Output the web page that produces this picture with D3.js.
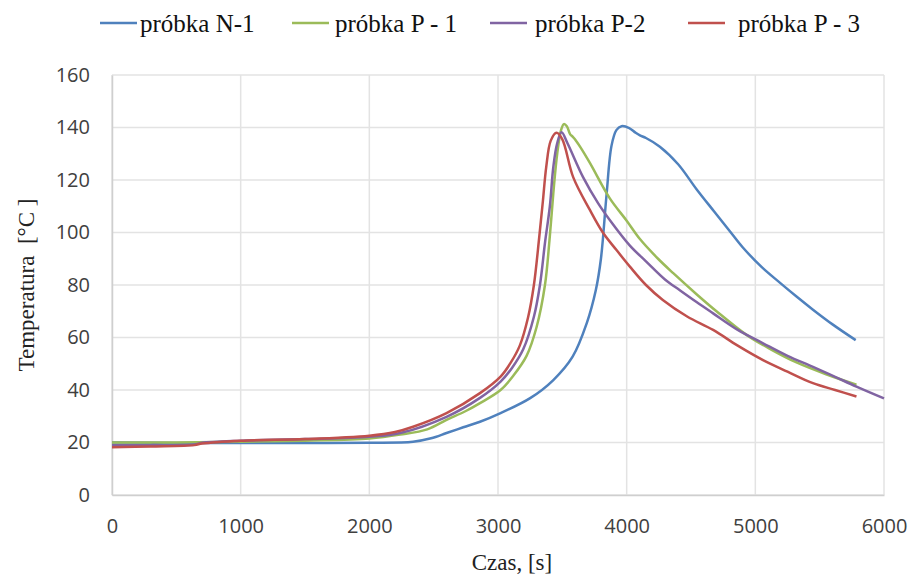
<!DOCTYPE html>
<html lang="pl">
<head>
<meta charset="UTF-8">
<title>Temperatura próbek</title>
<script src="https://cdnjs.cloudflare.com/ajax/libs/d3/7.8.5/d3.min.js"></script>
<style>
    body { margin: 0; padding: 0; background: #ffffff; }
    svg { display: block; }
    .tick text { font-family: "Open Sans", Arial, sans-serif; font-size: 20px; fill: #404040; }
    .title { font-family: "Liberation Serif", "Times New Roman", serif; font-size: 23px; fill: #222; }
    .legend text { font-family: "Liberation Serif", "Times New Roman", serif; font-size: 25px; fill: #111; }
</style>
</head>
<body>
<div id="chart"></div>
<script>
    // series: time [s] and temperature [°C]
    const timeN1 = [0, 500, 1000, 1500, 2000, 2340, 2480, 2600, 2730, 2860, 3020, 3250, 3430, 3580, 3690, 3760, 3800, 3843, 3882, 3920, 3960, 4020, 4070, 4103, 4150, 4258, 4400, 4543, 4680, 4802, 4903, 5050, 5190, 5320, 5448, 5600, 5780];
    const tempN1 = [20, 19.8, 19.8, 19.8, 19.9, 20.3, 21.6, 23.6, 25.8, 27.9, 31.2, 36.9, 43.8, 52.7, 65.5, 78, 90, 114, 133, 139, 140.5, 139.8, 138, 137, 136, 132.7, 126, 116.5, 108, 100.5, 94.3, 86.8, 80.9, 75.6, 70.6, 65, 59];

    const timeP1 = [0, 500, 1000, 1500, 2000, 2240, 2450, 2600, 2750, 2860, 3020, 3120, 3222, 3300, 3365, 3400, 3430, 3460, 3490, 3512, 3535, 3560, 3580, 3598, 3640, 3714, 3869, 4000, 4103, 4244, 4362, 4543, 4698, 4931, 5120, 5320, 5550, 5786];
    const tempP1 = [20, 20, 20.3, 20.7, 21.5, 23, 25, 28.6, 32, 35, 40, 45.5, 53, 64, 80, 97, 115, 130, 139, 141.3, 140.5, 137.5, 136.5, 135.5, 132.5, 126.5, 113, 104.5, 97.5, 90, 84.5, 76.5, 70, 61, 55.5, 50.5, 46, 42];

    const timeP2 = [0, 300, 640, 700, 1000, 1500, 2000, 2240, 2600, 2860, 3020, 3110, 3196, 3279, 3326, 3365, 3403, 3430, 3460, 3494, 3540, 3662, 3780, 3880, 4025, 4150, 4300, 4413, 4543, 4672, 4860, 5060, 5250, 5448, 5620, 5786, 6000];
    const tempP2 = [19, 19, 19.2, 19.9, 20.7, 21.3, 22.2, 23.6, 29.8, 37, 43.2, 48.5, 55.5, 67.9, 80, 96, 110, 125, 134, 138.2, 134, 121, 111, 104, 95, 89, 82, 78, 73.5, 69.2, 63, 57.8, 53, 48.8, 45, 41.3, 36.8];

    const timeP3 = [0, 300, 640, 700, 1000, 1500, 2000, 2200, 2340, 2600, 2860, 3020, 3100, 3170, 3233, 3279, 3320, 3349, 3375, 3410, 3455, 3500, 3585, 3714, 3815, 3921, 4025, 4150, 4281, 4470, 4672, 4860, 5060, 5250, 5448, 5620, 5786];
    const tempP3 = [18.2, 18.5, 19, 19.6, 20.7, 21.3, 22.6, 24, 26, 31.2, 38.8, 45.1, 50.5, 57, 67.5, 80, 98, 112, 125, 135, 138, 135.5, 121, 108.6, 100, 93.3, 87, 80, 74.3, 68, 62.9, 57, 51.4, 47, 42.6, 40, 37.5];

    const seriesNames = ["próbka N-1", "próbka P - 1", "próbka P-2", "próbka P - 3"];
    const seriesColors = ["#4f81bd", "#9bbb59", "#8064a2", "#c0504d"];
    const xTicks = [0, 1000, 2000, 3000, 4000, 5000, 6000];
    const yTicks = [0, 20, 40, 60, 80, 100, 120, 140, 160];

    const series = [
        {name: seriesNames[0], color: seriesColors[0], t: timeN1, v: tempN1},
        {name: seriesNames[1], color: seriesColors[1], t: timeP1, v: tempP1},
        {name: seriesNames[2], color: seriesColors[2], t: timeP2, v: tempP2},
        {name: seriesNames[3], color: seriesColors[3], t: timeP3, v: tempP3}
    ];

    const width = 920, height = 578;
    const margin = {top: 75, right: 36, bottom: 83, left: 112};

    const svg = d3.select("#chart").append("svg")
        .attr("width", width)
        .attr("height", height);

    const x = d3.scaleLinear().domain([0, 6000]).range([margin.left, width - margin.right]);
    const y = d3.scaleLinear().domain([0, 160]).range([height - margin.bottom, margin.top]);

    // grid
    svg.append("g")
        .selectAll("line")
        .data(yTicks)
        .join("line")
        .attr("x1", x(0)).attr("x2", x(6000))
        .attr("y1", d => y(d)).attr("y2", d => y(d))
        .attr("stroke", "#e3e3e3").attr("stroke-width", 1.5);

    svg.append("g")
        .selectAll("line")
        .data(xTicks)
        .join("line")
        .attr("x1", d => x(d)).attr("x2", d => x(d))
        .attr("y1", y(0)).attr("y2", y(160))
        .attr("stroke", "#e3e3e3").attr("stroke-width", 1.5);

    // axes
    const xAxis = svg.append("g")
        .attr("transform", `translate(0,${y(0)})`)
        .call(d3.axisBottom(x).tickValues(xTicks).tickSize(0).tickPadding(24).tickFormat(d3.format("d")));
    xAxis.select(".domain").attr("stroke", "#cfcfcf").attr("stroke-width", 1.5);

    const yAxis = svg.append("g")
        .attr("transform", `translate(${x(0)},0)`)
        .call(d3.axisLeft(y).tickValues(yTicks).tickSize(0).tickPadding(22));
    yAxis.select(".domain").attr("stroke", "#cfcfcf").attr("stroke-width", 1.5);

    // lines
    const line = d3.line()
        .x(d => x(d[0]))
        .y(d => y(d[1]))
        .curve(d3.curveCatmullRom.alpha(0.5));

    svg.append("g")
        .selectAll("path")
        .data(series)
        .join("path")
        .attr("d", s => line(d3.zip(s.t, s.v)))
        .attr("fill", "none")
        .attr("stroke", s => s.color)
        .attr("stroke-width", 2.5)
        .attr("stroke-linejoin", "round");

    // axis titles
    svg.append("text")
        .attr("class", "title")
        .attr("x", 512)
        .attr("y", 570)
        .attr("text-anchor", "middle")
        .text("Czas, [s]");

    svg.append("text")
        .attr("class", "title")
        .attr("transform", `translate(34,${(y(0) + y(160)) / 2}) rotate(-90)`)
        .attr("text-anchor", "middle")
        .attr("xml:space", "preserve")
        .text("Temperatura  [°C ]");

    // legend
    const legendX = [100, 292, 490, 688];
    const legendGap = [40, 43, 45, 50];
    const legend = svg.append("g").attr("class", "legend")
        .selectAll("g")
        .data(series)
        .join("g")
        .attr("transform", (d, i) => `translate(${legendX[i]},23)`);

    legend.append("line")
        .attr("x1", 0).attr("x2", 37)
        .attr("stroke", d => d.color)
        .attr("stroke-width", 2.5);

    legend.append("text")
        .attr("x", (d, i) => legendGap[i])
        .attr("y", 9)
        .text(d => d.name);
</script>
</body>
</html>
